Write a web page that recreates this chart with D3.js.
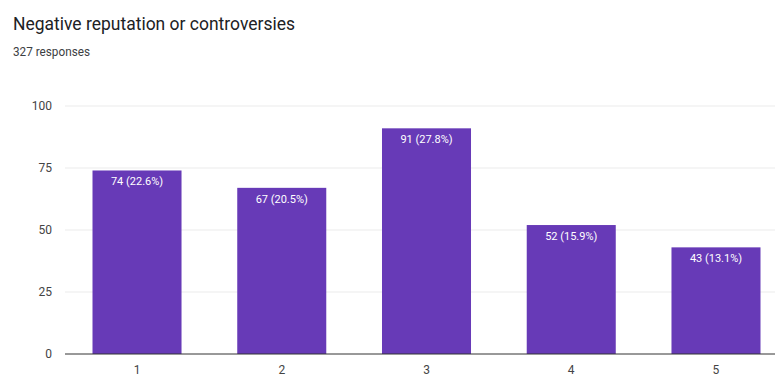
<!DOCTYPE html>
<html>
<head>
<meta charset="utf-8">
<script src="https://cdn.jsdelivr.net/npm/d3@7"></script>
<style>
  body { margin: 0; background: #fff; }
  text { font-family: Roboto, Arial, sans-serif; }
</style>
</head>
<body>
<div id="chart"></div>
<script>
const categories = ["1", "2", "3", "4", "5"];
const counts = [74, 67, 91, 52, 43];
const percents = ["22.6%", "20.5%", "27.8%", "15.9%", "13.1%"];
const yTicks = [0, 25, 50, 75, 100];
const title = "Negative reputation or controversies";
const subtitle = "327 responses";

const width = 775, height = 379;

const svg = d3.select("#chart").append("svg")
  .attr("width", width)
  .attr("height", height);

svg.append("rect").attr("width", width).attr("height", height).attr("fill", "#fff");

// title (reference text is a bit condensed)
svg.append("text")
  .attr("x", 13).attr("y", 30)
  .attr("fill", "#202124")
  .attr("textLength", 282)
  .attr("lengthAdjust", "spacingAndGlyphs")
  .style("font-size", "18px")
  .text(title);

svg.append("text")
  .attr("x", 13).attr("y", 56)
  .attr("fill", "#3c4043")
  .attr("textLength", 77)
  .attr("lengthAdjust", "spacingAndGlyphs")
  .style("font-size", "12.5px")
  .text(subtitle);

const x = d3.scaleBand()
  .domain(categories)
  .range([65, 788])
  .paddingInner(0.385)
  .paddingOuter(0.19);

const y = d3.scaleLinear()
  .domain([0, 100])
  .range([354, 106]);

// gridlines
svg.selectAll(".grid")
  .data(yTicks.filter(t => t > 0))
  .enter()
  .append("line")
  .attr("x1", 65).attr("x2", width)
  .attr("y1", d => y(d)).attr("y2", d => y(d))
  .attr("stroke", "#ebebeb")
  .attr("stroke-width", 1);

// y labels
svg.selectAll(".ylab")
  .data(yTicks)
  .enter()
  .append("text")
  .attr("x", 52)
  .attr("y", d => y(d) + 4)
  .attr("text-anchor", "end")
  .attr("fill", "#444")
  .style("font-size", "12px")
  .text(d => d);

// bars
const data = categories.map((c, i) => ({ cat: c, v: counts[i], p: percents[i] }));

svg.selectAll(".bar")
  .data(data)
  .enter()
  .append("rect")
  .attr("x", d => x(d.cat))
  .attr("y", d => y(d.v))
  .attr("width", x.bandwidth())
  .attr("height", d => y(0) - y(d.v))
  .attr("fill", "#673ab7");

// bar labels
svg.selectAll(".blab")
  .data(data)
  .enter()
  .append("text")
  .attr("x", d => x(d.cat) + x.bandwidth() / 2)
  .attr("y", d => y(d.v) + 15)
  .attr("text-anchor", "middle")
  .attr("fill", "#fff")
  .style("font-size", "11px")
  .text(d => `${d.v} (${d.p})`);

// baseline
svg.append("line")
  .attr("x1", 65).attr("x2", width)
  .attr("y1", y(0)).attr("y2", y(0))
  .attr("stroke", "#333")
  .attr("stroke-width", 1);

// x labels
svg.selectAll(".xlab")
  .data(categories)
  .enter()
  .append("text")
  .attr("x", d => x(d) + x.bandwidth() / 2)
  .attr("y", 374)
  .attr("text-anchor", "middle")
  .attr("fill", "#444")
  .style("font-size", "12px")
  .text(d => d);
</script>
</body>
</html>
